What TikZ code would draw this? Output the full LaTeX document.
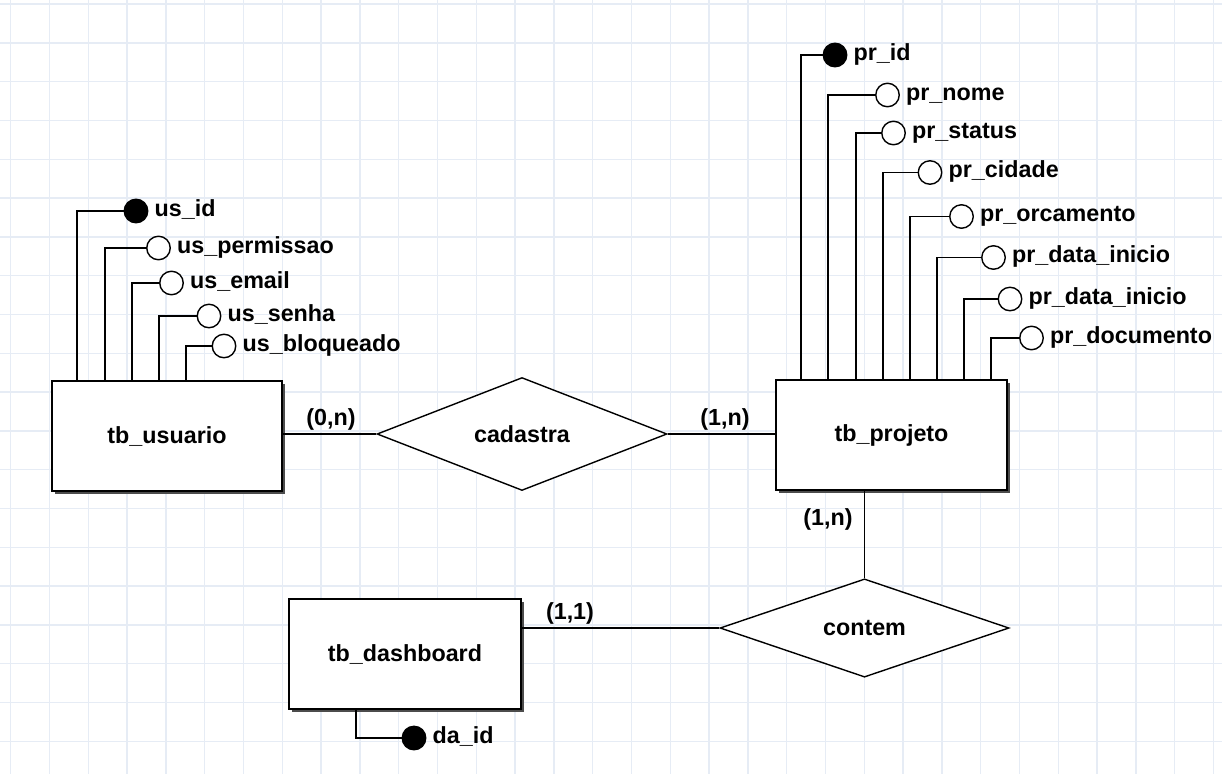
\documentclass[tikz,border=0pt]{standalone}
\usepackage{fontspec}
\setmainfont{Liberation Sans}
\usetikzlibrary{positioning,shapes.geometric,shadows}

\definecolor{gridblue}{RGB}{230,236,245}

\begin{document}
\begin{tikzpicture}[x=1pt, y=-1pt, font=\fontsize{23.3}{27}\selectfont\bfseries,
  gridline/.style={draw=gridblue, line width=1.4pt},
  entity/.style={draw, line width=1.7pt, fill=white, minimum width=#1, minimum height=110pt, inner sep=0pt,
    drop shadow={shadow xshift=3pt, shadow yshift=-3pt, fill=black!70, opacity=1}},
  relation/.style={draw, diamond, line width=1.4pt, fill=white, inner sep=0pt, minimum width=290pt, minimum height=97pt},
  attr/.style={draw, circle, line width=1.4pt, fill=white, minimum size=23.5pt, inner sep=0pt,
    label={[attrlbl]right:#1}},
  keyattr/.style={attr=#1, fill=black},
  attrlbl/.style={label distance=4pt, inner sep=2pt, yshift=-2.5pt, text height=0.75em, text depth=0.22em},
  card/.style={inner sep=1pt},
  link/.style={line width=1.4pt}]
\useasboundingbox (0,0) rectangle (1222,774);
\fill[white] (0,0) rectangle (1222,774);
% background grid
\foreach \k in {0,...,31} \draw[gridline] (10.7+38.8*\k,0) -- (10.7+38.8*\k,774);
\foreach \k in {0,...,19} \draw[gridline] (0,4+38.8*\k) -- (1222,4+38.8*\k);

% entities and relations
\node[entity=230pt] (usuario) at (167,436) {tb\_usuario};
\node[entity=231pt] (projeto) at (891.5,435) {tb\_projeto};
\node[entity=232pt] (dashboard) at (405,654) {tb\_dashboard};
\node[relation] (cadastra) at (522,434) {cadastra};
\node[relation, minimum width=289pt] (contem) at (864.5,628) {contem};

% attributes of tb_usuario
\node[keyattr=us\_id] (usid) at (136,211) {};
\node[attr=us\_permissao] (usperm) at (158.5,248) {};
\node[attr=us\_email] (usemail) at (171.5,283) {};
\node[attr=us\_senha] (ussenha) at (209,316) {};
\node[attr=us\_bloqueado] (usbloq) at (224,346) {};
\draw[link] (usid.west) -| ([xshift=26pt]usuario.north west);
\draw[link] (usperm.west) -| ([xshift=54pt]usuario.north west);
\draw[link] (usemail.west) -| ([xshift=81pt]usuario.north west);
\draw[link] (ussenha.west) -| ([xshift=108pt]usuario.north west);
\draw[link] (usbloq.west) -| ([xshift=135pt]usuario.north west);

% attributes of tb_projeto
\node[keyattr=pr\_id] (prid) at (835,55) {};
\node[attr=pr\_nome] (prnome) at (887.5,95) {};
\node[attr=pr\_status] (prstatus) at (893.5,133) {};
\node[attr=pr\_cidade] (prcidade) at (930,172.5) {};
\node[attr=pr\_orcamento] (prorc) at (961.5,216.5) {};
\node[attr=pr\_data\_inicio] (prini) at (993.5,257.5) {};
\node[attr=pr\_data\_inicio] (prinib) at (1010,299) {};
\node[attr=pr\_documento] (prdoc) at (1031.5,338) {};
\draw[link] (prid.west) -| ([xshift=26pt]projeto.north west);
\draw[link] (prnome.west) -| ([xshift=53pt]projeto.north west);
\draw[link] (prstatus.west) -| ([xshift=81pt]projeto.north west);
\draw[link] (prcidade.west) -| ([xshift=108pt]projeto.north west);
\draw[link] (prorc.west) -| ([xshift=135pt]projeto.north west);
\draw[link] (prini.west) -| ([xshift=162pt]projeto.north west);
\draw[link] (prinib.west) -| ([xshift=189pt]projeto.north west);
\draw[link] (prdoc.west) -| ([xshift=216pt]projeto.north west);

% attribute of tb_dashboard
\node[keyattr=da\_id] (daid) at (414,738) {};
\draw[link] (daid.west) -| ([xshift=68pt]dashboard.south west);

% relationships
\draw[link] (cadastra.west) -- (cadastra.west -| usuario.east);
\draw[link] (cadastra.east) -- (cadastra.east -| projeto.west);
\draw[link] (contem.north) -- (contem.north |- projeto.south);
\draw[link] (contem.west) -- (contem.west -| dashboard.east);

% cardinalities
\node[card] (cusu) at (331,419) {(0,n)};
\node[card] (cproj) at (725,419) {(1,n)};
\node[card] (cprojb) at (828,519) {(1,n)};
\node[card] (cdash) at (570,613) {(1,1)};
\end{tikzpicture}
\end{document}
